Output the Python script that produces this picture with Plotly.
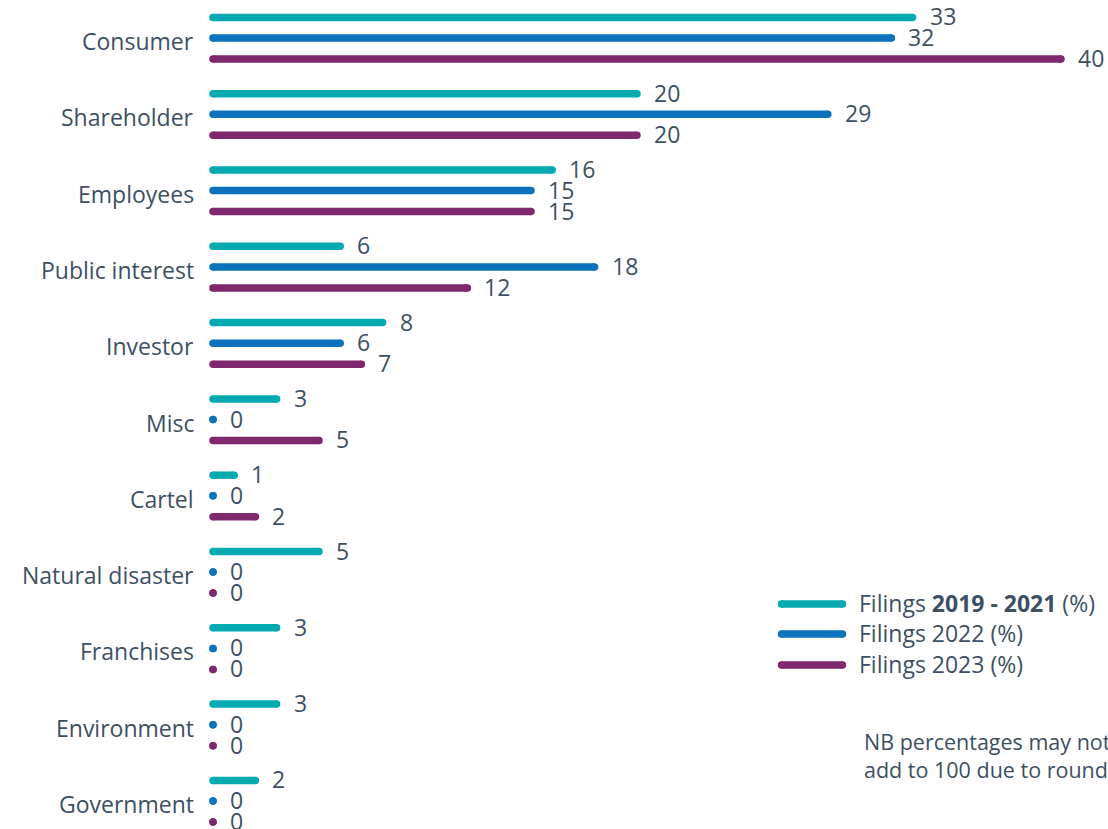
import plotly.graph_objects as go

categories = ["Consumer", "Shareholder", "Employees", "Public interest", "Investor",
              "Misc", "Cartel", "Natural disaster", "Franchises", "Environment", "Government"]
filings_2019_2021 = [33, 20, 16, 6, 8, 3, 1, 5, 3, 3, 2]
filings_2022 = [32, 29, 15, 18, 6, 0, 0, 0, 0, 0, 0]
filings_2023 = [40, 20, 15, 12, 7, 5, 2, 0, 0, 0, 0]

series_names = ["Filings <b>2019 - 2021</b> (%)", "Filings 2022 (%)", "Filings 2023 (%)"]
series_values = [filings_2019_2021, filings_2022, filings_2023]
colors = ["#04aab0", "#0d72bc", "#7f286e"]
offsets = [-0.27, 0.0, 0.275]

TEXT = "#3d5063"
FONT = "Open Sans"
FS = 23
W, H = 1108, 829
L = 213
LW = 7.5

fig = go.Figure()
annotations = []

for vals, col, off in zip(series_values, colors, offsets):
    xs, ys = [], []
    for i, v in enumerate(vals):
        y = i + off
        xs += [0, v, None]
        ys += [y, y, None]
        annotations.append(dict(x=v, y=y, xref="x", yref="y", text=str(v), showarrow=False,
                                xanchor="left", yanchor="middle", xshift=15, yshift=1,
                                font=dict(family=FONT, size=FS, color=TEXT)))
    fig.add_trace(go.Scatter(x=xs, y=ys, mode="lines+markers",
                             line=dict(color=col, width=LW),
                             marker=dict(color=col, size=LW, line=dict(width=0)),
                             showlegend=False, hoverinfo="skip", cliponaxis=False))

# category labels
for i, cat in enumerate(categories):
    annotations.append(dict(x=0, y=i, xref="x", yref="y", text=cat, showarrow=False,
                            xanchor="right", yanchor="middle", xshift=-17, yshift=-3,
                            font=dict(family=FONT, size=FS, color=TEXT)))

# custom legend (pixel-coordinate overlay axes)
leg_y = [604, 634, 665]
for name, col, ly in zip(series_names, colors, leg_y):
    fig.add_trace(go.Scatter(x=[781.5, 842.5], y=[ly, ly], mode="lines+markers",
                             line=dict(color=col, width=LW),
                             marker=dict(color=col, size=LW, line=dict(width=0)),
                             xaxis="x2", yaxis="y2", showlegend=False, hoverinfo="skip",
                             cliponaxis=False))
    annotations.append(dict(x=857, y=ly, xref="x2", yref="y2", text=name, showarrow=False,
                            xanchor="left", yanchor="middle", yshift=1,
                            font=dict(family=FONT, size=FS, color=TEXT)))

annotations.append(dict(x=862, y=755, xref="x2", yref="y2",
                        text="NB percentages may not<br>add to 100 due to rounding",
                        showarrow=False, xanchor="left", yanchor="middle", align="left",
                        font=dict(family=FONT, size=21.5, color=TEXT)))

px_per_unit = 21.2
fig.update_layout(
    width=W, height=H,
    margin=dict(l=L, r=0, t=0, b=0),
    paper_bgcolor="white", plot_bgcolor="white",
    annotations=annotations,
    xaxis=dict(range=[0, (W - L) / px_per_unit], visible=False, fixedrange=True),
    yaxis=dict(range=[10.367, -0.498], visible=False),
    xaxis2=dict(range=[L, W], visible=False, overlaying="x", anchor="y2"),
    yaxis2=dict(range=[H, 0], visible=False, overlaying="y", anchor="x2"),
    showlegend=False,
    hovermode=False,
)

fig.write_html("out.html", config={"displayModeBar": False, "staticPlot": True},
               post_script="document.body.style.margin='0';document.body.style.overflow='hidden';")
